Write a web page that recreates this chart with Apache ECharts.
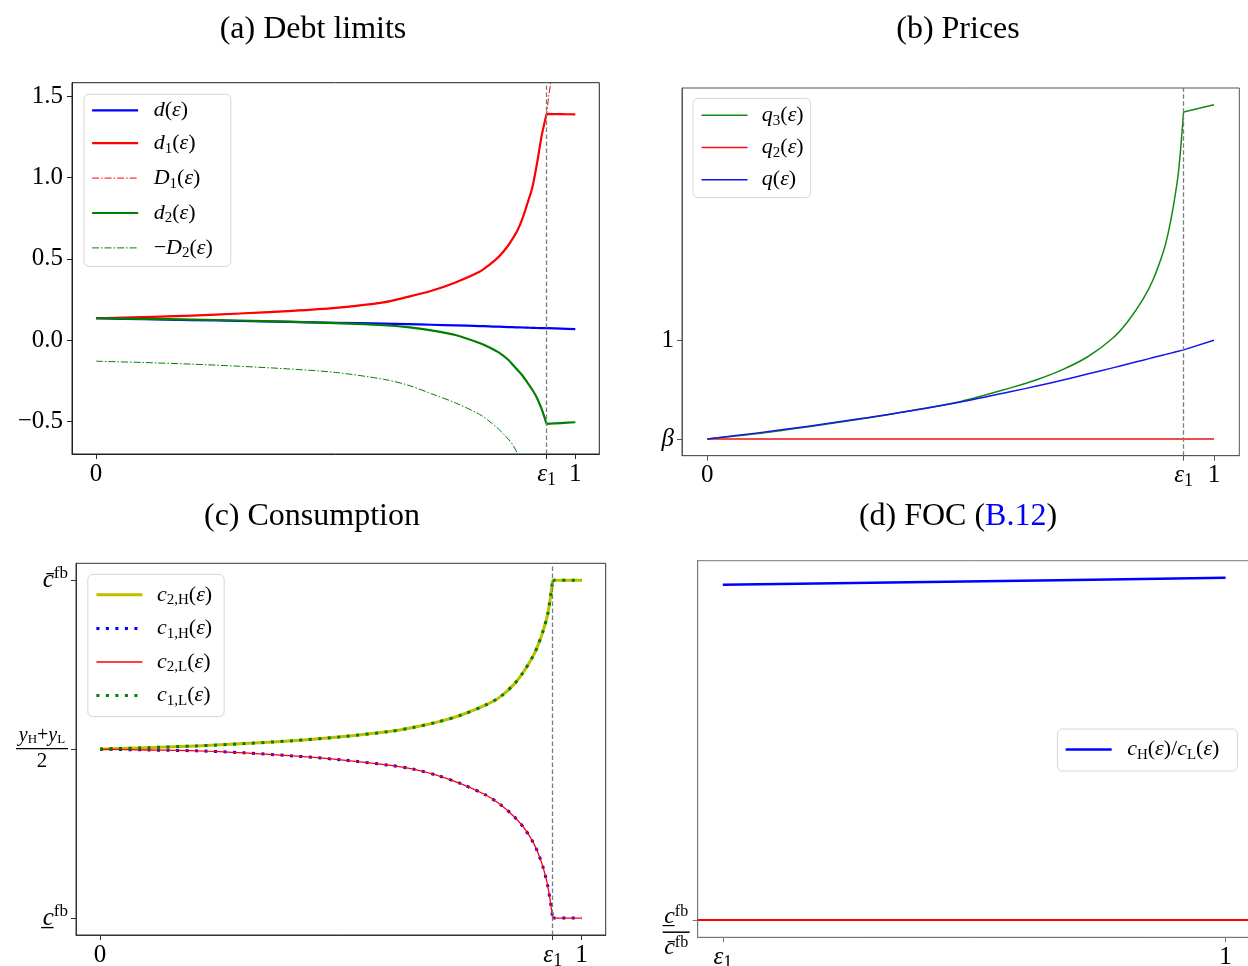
<!DOCTYPE html>
<html><head><meta charset="utf-8">
<script src="https://cdn.jsdelivr.net/npm/echarts@6/dist/echarts.min.js"></script>
<style>html,body{margin:0;padding:0;background:#fff}#c{width:1248px;height:966px}</style>
</head><body><div id="c"></div>
<script>
// ---------------- data ----------------
const EPS1 = 0.94;
const BETA = 0.9;
// (a) Debt limits
const xGrid  = [0, 0.1, 0.2, 0.3, 0.4, 0.5, 0.6, 0.65, 0.7, 0.75, 0.8, 0.82, 0.84, 0.86, 0.87, 0.88, 0.89, 0.9, 0.91, 0.92, 0.93, 0.94, 0.97, 1.0];
const dVals  = [0.135, 0.129, 0.124, 0.118, 0.113, 0.107, 0.102, 0.099, 0.095, 0.091, 0.087, 0.085, 0.083, 0.081, 0.08, 0.079, 0.078, 0.077, 0.076, 0.075, 0.0745, 0.074, 0.071, 0.068];
const d1Vals = [0.135, 0.142, 0.151, 0.164, 0.179, 0.199, 0.233, 0.266, 0.304, 0.355, 0.42, 0.462, 0.512, 0.582, 0.628, 0.679, 0.75, 0.84, 0.935, 1.085, 1.26, 1.39, 1.389, 1.387];
const d2Vals = [0.135, 0.131, 0.127, 0.121, 0.114, 0.105, 0.092, 0.08, 0.06, 0.032, -0.017, -0.043, -0.075, -0.12, -0.152, -0.185, -0.218, -0.26, -0.303, -0.355, -0.425, -0.514, -0.509, -0.504];
const xD1    = [0, 0.1, 0.2, 0.3, 0.4, 0.5, 0.6, 0.65, 0.7, 0.75, 0.8, 0.82, 0.84, 0.86, 0.87, 0.88, 0.89, 0.9, 0.91, 0.92, 0.93, 0.94, 0.944, 0.949, 0.955];
const D1Vals = [0.135, 0.142, 0.151, 0.164, 0.179, 0.199, 0.233, 0.266, 0.304, 0.355, 0.42, 0.462, 0.512, 0.582, 0.628, 0.679, 0.75, 0.84, 0.935, 1.085, 1.26, 1.39, 1.49, 1.586, 1.71];
const xNegD2 = [0, 0.1, 0.2, 0.3, 0.4, 0.5, 0.6, 0.65, 0.7, 0.75, 0.8, 0.82, 0.84, 0.86, 0.87, 0.88, 0.89, 0.9];
const negD2Vals = [-0.129, -0.137, -0.147, -0.16, -0.176, -0.198, -0.24, -0.275, -0.329, -0.385, -0.455, -0.497, -0.546, -0.607, -0.645, -0.7, -0.76, -0.83];
// (b) Prices
const xPrice = [0, 0.1, 0.2, 0.3, 0.4, 0.5, 0.6, 0.65, 0.7, 0.75, 0.8, 0.83, 0.86, 0.88, 0.9, 0.91, 0.92, 0.93, 0.94, 1.0];
const q3Vals = [0.9, 0.9055, 0.9125, 0.92, 0.9285, 0.938, 0.952, 0.96, 0.97, 0.983, 1.002, 1.019, 1.0415, 1.0615, 1.0895, 1.1095, 1.136, 1.1705, 1.231, 1.2384];
const q2Vals = [0.9, 0.9, 0.9, 0.9, 0.9, 0.9, 0.9, 0.9, 0.9, 0.9, 0.9, 0.9, 0.9, 0.9, 0.9, 0.9, 0.9, 0.9, 0.9, 0.9];
const qVals  = [0.9, 0.9062, 0.913, 0.9204, 0.9284, 0.9375, 0.948, 0.9536, 0.9595, 0.9657, 0.972, 0.9759, 0.9798, 0.9824, 0.985, 0.9863, 0.9876, 0.9889, 0.9902, 1.0];
// (c) Consumption (scaled: c_fb = -1, (yH+yL)/2 = 0, cbar_fb = 1)
const xCons   = [0, 0.1, 0.2, 0.3, 0.4, 0.5, 0.6, 0.65, 0.7, 0.75, 0.8, 0.83, 0.86, 0.88, 0.9, 0.91, 0.92, 0.93, 0.94, 0.97, 1.0];
const c2HVals = [0, 0.009, 0.019, 0.033, 0.05, 0.073, 0.104, 0.128, 0.16, 0.202, 0.26, 0.308, 0.385, 0.46, 0.555, 0.62, 0.7, 0.805, 1.0, 1.0, 1.0];
const c1HVals = [0, -0.005, -0.01, -0.022, -0.04, -0.063, -0.095, -0.118, -0.155, -0.205, -0.27, -0.325, -0.4, -0.465, -0.555, -0.618, -0.7, -0.815, -1.0, -1.0, -1.0];
const c2LVals = [0, -0.005, -0.01, -0.022, -0.04, -0.063, -0.095, -0.118, -0.155, -0.205, -0.27, -0.325, -0.4, -0.465, -0.555, -0.618, -0.7, -0.815, -1.0, -1.0, -1.0];
const c1LVals = [0, 0.009, 0.019, 0.033, 0.05, 0.073, 0.104, 0.128, 0.16, 0.202, 0.26, 0.308, 0.385, 0.46, 0.555, 0.62, 0.7, 0.805, 1.0, 1.0, 1.0];
// (d) FOC
const xFoc = [0.94, 0.96, 0.98, 1.0];
const ratioVals = [2.0, 2.0104, 2.0208, 2.0313];
const RATIO_FB = 0.5;
// ticks
const xTicks = [0, EPS1, 1];
const xTickLabels = ['0', 'ε1', '1'];
const xTicksD = [EPS1, 1];
const xTickLabelsD = ['ε1', '1'];
const yTicksA = [-0.5, 0, 0.5, 1, 1.5];
const yTickLabelsA = ['−0.5', '0.0', '0.5', '1.0', '1.5'];
const yTicksB = [BETA, 1];
const yTickLabelsB = ['β', '1'];
const yTicksC = [-1, 0, 1];
const yTickLabelsC = ['c_fb', '(yH+yL)/2', 'cbar_fb'];
const yTicksD = [RATIO_FB];
const yTickLabelsD = ['c_fb/cbar_fb'];

// ---------------- styles ----------------
const SERIF = "'Liberation Serif', 'Times New Roman', serif";
// pairs; when breakX is given the polyline is split at that x (the kink), so smoothing never rounds the corner
function pairs(xs, ys, breakX) {
  const out = [];
  xs.forEach((x, i) => {
    out.push([x, ys[i]]);
    if (breakX !== undefined && x === breakX && i < xs.length - 1) {
      out.push([x, '-']);
      out.push([x, ys[i]]);
    }
  });
  return out;
}

const TR = {
  n:   {fontFamily: SERIF, fontSize: 25, lineHeight: 30, color: '#000'},
  i:   {fontFamily: SERIF, fontSize: 25, lineHeight: 30, fontStyle: 'italic', color: '#000'},
  s:   {fontFamily: SERIF, fontSize: 18, lineHeight: 16, verticalAlign: 'bottom', color: '#000'},
  ci:  {fontFamily: SERIF, fontSize: 25, lineHeight: 30, fontStyle: 'italic', color: '#000'},
  sup: {fontFamily: SERIF, fontSize: 17, lineHeight: 16, verticalAlign: 'top', color: '#000'},
  fn:  {fontFamily: SERIF, fontSize: 20, lineHeight: 19, fontStyle: 'italic', align: 'center', color: '#000'},
  fs:  {fontFamily: SERIF, fontSize: 13, lineHeight: 11, verticalAlign: 'bottom', align: 'center', color: '#000'},
  fr:  {fontFamily: SERIF, fontSize: 20, lineHeight: 19, align: 'center', color: '#000'},
  bar: {width: 52, height: 1.3, lineHeight: 6, backgroundColor: '#000', align: 'center'},
  fd:  {fontFamily: SERIF, fontSize: 21, lineHeight: 20, align: 'center', color: '#000'},
  gn:  {fontFamily: SERIF, fontSize: 24, lineHeight: 25, fontStyle: 'italic', align: 'center', color: '#000'},
  gs:  {fontFamily: SERIF, fontSize: 16, lineHeight: 14, verticalAlign: 'top', align: 'center', color: '#000'},
  gbar:{width: 27, height: 1.5, lineHeight: 6, backgroundColor: '#000', align: 'center'}
};
const TICK_RICH_TEXT = {
  '0': '{n|0}', '1': '{n|1}', 'ε1': '{i|ε}{s|1}', 'β': '{i|β}',
  '−0.5': '{n|−0.5}', '0.0': '{n|0.0}', '0.5': '{n|0.5}', '1.0': '{n|1.0}', '1.5': '{n|1.5}',
  'c_fb': '{ci|c\u0332}{sup|fb}',
  'cbar_fb': '{ci|c\u0304}{sup|fb}',
  '(yH+yL)/2': '{fn|y}{fs|H}{fr|+}{fn|y}{fs|L}\n{bar|}\n{fd|2}',
  'c_fb/cbar_fb': '{gn|c\u0332}{gs|fb}\n{gbar|}\n{gn|c\u0304}{gs|fb}'
};
function labelFor(ticks, labels) {
  return function (v) {
    let best = 0;
    for (let k = 1; k < ticks.length; k++) if (Math.abs(ticks[k] - v) < Math.abs(ticks[best] - v)) best = k;
    return TICK_RICH_TEXT[labels[best]];
  };
}
function axis(gi, min, max, ticks, labels, color, margin, extra) {
  const a = {
    type: 'value', gridIndex: gi, min: min, max: max, scale: true,
    splitLine: {show: false},
    axisLine: {show: true, onZero: false, lineStyle: {color: color, width: 1}},
    axisTick: {show: true, inside: false, length: 5, customValues: ticks, lineStyle: {color: color, width: 1}},
    axisLabel: {show: true, customValues: ticks, margin: margin, formatter: labelFor(ticks, labels), rich: TR,
      color: '#000', fontFamily: SERIF, fontSize: 25, hideOverlap: false, showMinLabel: true, showMaxLabel: true}
  };
  if (extra) Object.assign(a.axisLabel, extra);
  return a;
}

// legend rich
const LR = {
  i: {fontFamily: SERIF, fontSize: 22, lineHeight: 26, fontStyle: 'italic', color: '#000'},
  r: {fontFamily: SERIF, fontSize: 22, lineHeight: 26, color: '#000'},
  s: {fontFamily: SERIF, fontSize: 15, lineHeight: 13, verticalAlign: 'bottom', color: '#000'}
};
const LEG = {
  'd(ε)': '{i|d}{r|(}{i|ε}{r|)}',
  'd1(ε)': '{i|d}{s|1}{r|(}{i|ε}{r|)}',
  'D1(ε)': '{i|D}{s|1}{r|(}{i|ε}{r|)}',
  'd2(ε)': '{i|d}{s|2}{r|(}{i|ε}{r|)}',
  '−D2(ε)': '{r|−}{i|D}{s|2}{r|(}{i|ε}{r|)}',
  'q3(ε)': '{i|q}{s|3}{r|(}{i|ε}{r|)}',
  'q2(ε)': '{i|q}{s|2}{r|(}{i|ε}{r|)}',
  'q(ε)': '{i|q}{r|(}{i|ε}{r|)}',
  'c2,H(ε)': '{i|c}{s|2,H}{r|(}{i|ε}{r|)}',
  'c1,H(ε)': '{i|c}{s|1,H}{r|(}{i|ε}{r|)}',
  'c2,L(ε)': '{i|c}{s|2,L}{r|(}{i|ε}{r|)}',
  'c1,L(ε)': '{i|c}{s|1,L}{r|(}{i|ε}{r|)}',
  'cH(ε)/cL(ε)': '{i|c}{s|H}{r|(}{i|ε}{r|)/}{i|c}{s|L}{r|(}{i|ε}{r|)}'
};
function legend(names, left, top, pad, gap, textPadLeft) {
  return {
    data: names, left: left, top: top, orient: 'vertical', padding: pad, itemGap: gap,
    itemWidth: 46, itemHeight: 14, selectedMode: false,
    itemStyle: {opacity: 0, borderWidth: 0},
    lineStyle: {width: 'inherit', type: 'inherit', color: 'inherit'},
    backgroundColor: 'rgba(255,255,255,0.85)', borderColor: '#d6d6d6', borderWidth: 1, borderRadius: 5,
    formatter: n => LEG[n],
    textStyle: {rich: LR, padding: [0, 0, 0, textPadLeft], fontFamily: SERIF, fontSize: 22}
  };
}
function line(name, xi, xs, ys, color, width, type, extra, breakX, smooth) {
  const s = {
    name: name, type: 'line', xAxisIndex: xi, yAxisIndex: xi, data: pairs(xs, ys, breakX),
    symbol: 'none', showSymbol: false, smooth: smooth || false, connectNulls: false, clip: true, animation: false,
    lineStyle: {color: color, width: width, type: type || 'solid', cap: 'butt', join: 'round'},
    itemStyle: {color: color},
    emphasis: {disabled: true}
  };
  if (extra) Object.assign(s, extra);
  return s;
}
const vline = {
  silent: true, symbol: 'none', label: {show: false}, animation: false,
  lineStyle: {color: '#7a7a7a', type: [4.5, 2.5], width: 1.3},
  data: [{xAxis: EPS1}]
};
const SM = 0.3;

const titleStyle = {fontFamily: SERIF, fontWeight: 'normal', fontSize: 32, lineHeight: 34, color: '#000'};

const option = {
  animation: false,
  backgroundColor: '#fff',
  title: [
    {text: '(a) Debt limits', left: 313, top: 12.5, textAlign: 'center', padding: 0, textStyle: titleStyle},
    {text: '(b) Prices', left: 958, top: 12.5, textAlign: 'center', padding: 0, textStyle: titleStyle},
    {text: '(c) Consumption', left: 312, top: 500, textAlign: 'center', padding: 0, textStyle: titleStyle},
    {text: '{t|(d) FOC (}{b|B.12}{t|)}', left: 958, top: 500, textAlign: 'center', padding: 0,
      textStyle: Object.assign({}, titleStyle, {rich: {t: titleStyle, b: Object.assign({}, titleStyle, {color: '#0000ff'})}})}
  ],
  grid: [
    {left: 72, top: 82.7, width: 527.3, height: 371.3, show: true, borderColor: '#222', borderWidth: 1, backgroundColor: 'transparent', containLabel: false, outerBoundsMode: 'none'},
    {left: 682, top: 88, width: 557.3, height: 367.7, show: true, borderColor: '#555', borderWidth: 1, backgroundColor: 'transparent', containLabel: false, outerBoundsMode: 'none'},
    {left: 76, top: 563.3, width: 529.7, height: 371.7, show: true, borderColor: '#333', borderWidth: 1, backgroundColor: 'transparent', containLabel: false, outerBoundsMode: 'none'},
    {left: 697.7, top: 560.7, width: 553, height: 376.6, show: true, borderColor: '#777', borderWidth: 1, backgroundColor: 'transparent', containLabel: false, outerBoundsMode: 'none'}
  ],
  xAxis: [
    axis(0, -0.05, 1.05, xTicks, xTickLabels, '#222', 5),
    axis(1, -0.05, 1.05, xTicks, xTickLabels, '#555', 5),
    axis(2, -0.05, 1.05, xTicks, xTickLabels, '#333', 5),
    axis(3, EPS1 - 0.003, 1.003, xTicksD, xTickLabelsD, '#777', 5)
  ],
  yAxis: [
    axis(0, -0.699, 1.582, yTicksA, yTickLabelsA, '#222', 9),
    axis(1, 0.8831, 1.2553, yTicksB, yTickLabelsB, '#555', 8),
    axis(2, -1.1, 1.1, yTicksC, yTickLabelsC, '#333', 8),
    axis(3, 0.4234, 2.1079, yTicksD, yTickLabelsD, '#777', 8, {padding: [24, 0, 0, 0]})
  ],
  legend: [
    legend(['d(ε)', 'd1(ε)', 'D1(ε)', 'd2(ε)', '−D2(ε)'], 84, 94.3, [5, 18, 5.5, 7], 10.9, 10.6),
    legend(['q3(ε)', 'q2(ε)', 'q(ε)'], 693, 98.3, [6, 7, 7, 7.8], 8.2, 9.3),
    legend(['c2,H(ε)', 'c1,H(ε)', 'c2,L(ε)', 'c1,L(ε)'], 87.8, 574.3, [9.5, 12, 8, 7.1], 9.6, 9.6),
    legend(['cH(ε)/cL(ε)'], 1057.4, 729, [9.5, 18, 8.5, 7], 0, 10.5)
  ],
  series: [
    line('d(ε)', 0, xGrid, dVals, '#0000ff', 2.2, 'solid', {markLine: vline}, EPS1, SM),
    line('d1(ε)', 0, xGrid, d1Vals, '#ff0000', 2.2, 'solid', null, EPS1, SM),
    line('D1(ε)', 0, xD1, D1Vals, '#ff0000', 1, [7, 2, 1.5, 2], null, undefined, SM),
    line('d2(ε)', 0, xGrid, d2Vals, '#008000', 2.2, 'solid', null, EPS1, SM),
    line('−D2(ε)', 0, xNegD2, negD2Vals, '#008000', 1, [7, 2, 1.5, 2], null, undefined, SM),

    line('q3(ε)', 1, xPrice, q3Vals, '#138a13', 1.5, 'solid', {markLine: vline}, EPS1, SM),
    line('q2(ε)', 1, xPrice, q2Vals, '#ee1111', 1.5),
    line('q(ε)', 1, xPrice, qVals, '#1515ee', 1.5, 'solid', null, EPS1, SM),

    line('c2,H(ε)', 2, xCons, c2HVals, '#bfbf00', 3, 'solid', {markLine: vline}, EPS1, SM),
    line('c1,H(ε)', 2, xCons, c1HVals, '#0000ff', 3, [3, 6.5], null, EPS1, SM),
    line('c2,L(ε)', 2, xCons, c2LVals, '#ff0000', 1.3, 'solid', null, EPS1, SM),
    line('c1,L(ε)', 2, xCons, c1LVals, '#008000', 3, [3, 6.5], null, EPS1, SM),

    line('cH(ε)/cL(ε)', 3, xFoc, ratioVals, '#0000ff', 2.5, 'solid', {markLine: {
      silent: true, symbol: 'none', label: {show: false}, animation: false,
      lineStyle: {color: '#ff0000', type: 'solid', width: 1.8},
      data: [{yAxis: RATIO_FB}]
    }})
  ]
};
const chart = echarts.init(document.getElementById('c'), null, {renderer: 'canvas'});
chart.setOption(option);
</script>
</body></html>
